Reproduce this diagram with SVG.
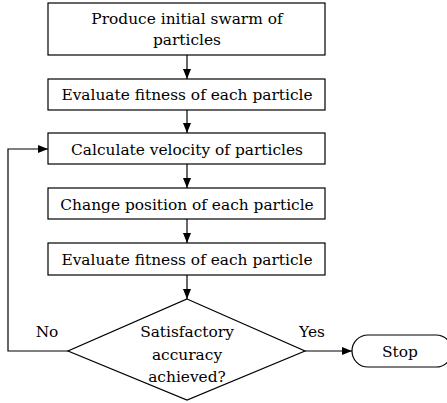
<svg xmlns="http://www.w3.org/2000/svg" width="447" height="403" viewBox="0 0 447 403">
<defs>
<marker id="ah" markerWidth="10" markerHeight="8" refX="10" refY="4" orient="auto" markerUnits="userSpaceOnUse">
<path d="M0,0 L10,4 L0,8 Z" fill="#000"/>
</marker>
</defs>
<style>
.box{fill:#fff;stroke:#000;stroke-width:1.2}
text{font-family:'DejaVu Serif',serif;font-size:15.4px;fill:#000;text-anchor:middle}
.c{fill:none;stroke:#000;stroke-width:1.2}
</style>
<rect width="447" height="403" fill="#fff"/>
<g id="connectors">
<line class="c" x1="187" y1="55" x2="187" y2="79" marker-end="url(#ah)"/>
<line class="c" x1="187" y1="110" x2="187" y2="133" marker-end="url(#ah)"/>
<line class="c" x1="187" y1="164" x2="187" y2="188" marker-end="url(#ah)"/>
<line class="c" x1="187" y1="219" x2="187" y2="243" marker-end="url(#ah)"/>
<line class="c" x1="187" y1="275" x2="187" y2="299" marker-end="url(#ah)"/>
<polyline class="c" points="68,351 8,351 8,149 48,149" marker-end="url(#ah)"/>
<line class="c" x1="305" y1="351" x2="352" y2="351" marker-end="url(#ah)"/>
<text x="47" y="337">No</text>
<text x="312" y="337">Yes</text>
</g>
<g id="n1"><rect class="box" x="48" y="3" width="277" height="52"/><text x="187" y="24">Produce initial swarm of</text><text x="187" y="45">particles</text></g>
<g id="n2"><rect class="box" x="48" y="79" width="277" height="31"/><text x="187" y="100">Evaluate fitness of each particle</text></g>
<g id="n3"><rect class="box" x="48" y="133" width="277" height="31"/><text x="187" y="155">Calculate velocity of particles</text></g>
<g id="n4"><rect class="box" x="48" y="188" width="277" height="31"/><text x="187" y="210">Change position of each particle</text></g>
<g id="n5"><rect class="box" x="48" y="243" width="277" height="32"/><text x="187" y="265">Evaluate fitness of each particle</text></g>
<g id="n6"><polygon class="box" points="187,299 305,351 187,400 68,351"/><text x="187" y="337">Satisfactory</text><text x="187" y="360">accuracy</text><text x="187" y="382">achieved?</text></g>
<g id="n7"><rect class="box" x="352" y="335" width="100" height="32" rx="16"/><text x="400" y="357">Stop</text></g>
</svg>
